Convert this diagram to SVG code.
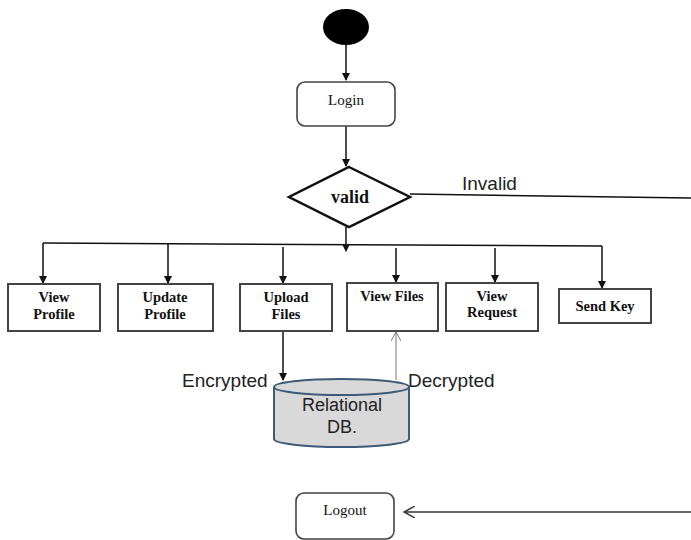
<svg xmlns="http://www.w3.org/2000/svg" width="691" height="540" viewBox="0 0 691 540">
<defs>
<marker id="ah" markerWidth="8" markerHeight="8" refX="7" refY="4" orient="auto" markerUnits="userSpaceOnUse"><path d="M0,0 L8,4 L0,8 z" fill="#111"/></marker>
<marker id="open" markerWidth="12" markerHeight="12" refX="11" refY="6" orient="auto" markerUnits="userSpaceOnUse"><path d="M0,0 L11,6 L0,12" fill="none" stroke="#333" stroke-width="1.5"/></marker>
<marker id="openg" markerWidth="10" markerHeight="10" refX="9" refY="5" orient="auto" markerUnits="userSpaceOnUse"><path d="M0,0 L9,5 L0,10" fill="none" stroke="#777" stroke-width="1"/></marker>
</defs>
<style>
.box{fill:#fff;stroke:#444;stroke-width:2}
.rbox{fill:#fff;stroke:#444;stroke-width:1.6}
.bt{font-family:"Liberation Serif",serif;font-weight:bold;font-size:14.5px;fill:#111;text-anchor:middle}
.st{font-family:"Liberation Serif",serif;font-size:15px;fill:#111;text-anchor:middle}
.lt{font-family:"Liberation Sans",sans-serif;font-size:19px;fill:#222}
.ln{stroke:#111;stroke-width:1.5;fill:none}
</style>
<g id="connectors">
<line class="ln" x1="346" y1="45" x2="346" y2="80" marker-end="url(#ah)"/>
<line class="ln" x1="346" y1="126" x2="346" y2="166" marker-end="url(#ah)"/>
<line class="ln" x1="410" y1="194" x2="691" y2="198"/>
<line class="ln" x1="346" y1="227" x2="346" y2="251" marker-end="url(#ah)"/>
<line class="ln" x1="43" y1="243" x2="602" y2="246"/>
<line class="ln" x1="43" y1="243" x2="43" y2="283" marker-end="url(#ah)"/>
<line class="ln" x1="168" y1="244" x2="168" y2="283" marker-end="url(#ah)"/>
<line class="ln" x1="283" y1="247" x2="283" y2="283" marker-end="url(#ah)"/>
<line class="ln" x1="396" y1="248" x2="396" y2="282" marker-end="url(#ah)"/>
<line class="ln" x1="495" y1="248" x2="495" y2="282" marker-end="url(#ah)"/>
<line class="ln" x1="602" y1="246" x2="602" y2="288" marker-end="url(#ah)"/>
<line class="ln" x1="283" y1="331" x2="283" y2="380" marker-end="url(#ah)"/>
<line x1="396" y1="380" x2="396" y2="332" stroke="#777" stroke-width="1" marker-end="url(#openg)"/>
<line x1="691" y1="512" x2="404" y2="512" stroke="#333" stroke-width="1.5" marker-end="url(#open)"/>
</g>
<g id="start"><ellipse cx="346" cy="27" rx="23" ry="18" fill="#000"/></g>
<g id="login"><rect class="rbox" x="297" y="82" width="98" height="44" rx="8"/><text class="st" x="346" y="105">Login</text></g>
<g id="valid"><polygon points="349,167 410,197 349,227 289,197" fill="#fff" stroke="#111" stroke-width="2.5"/><text class="bt" style="font-size:18px" x="350" y="203">valid</text></g>
<text class="lt" x="462" y="190">Invalid</text>
<g id="viewprofile"><rect class="box" x="8" y="284" width="92" height="47"/><text class="bt" x="54" y="302">View</text><text class="bt" x="54" y="319">Profile</text></g>
<g id="updateprofile"><rect class="box" x="118" y="284" width="95" height="47"/><text class="bt" x="165" y="302">Update</text><text class="bt" x="165" y="319">Profile</text></g>
<g id="uploadfiles"><rect class="box" x="240" y="284" width="92" height="47"/><text class="bt" x="286" y="302">Upload</text><text class="bt" x="286" y="319">Files</text></g>
<g id="viewfiles"><rect class="box" x="347" y="283" width="91" height="48"/><text class="bt" x="392" y="301">View Files</text></g>
<g id="viewrequest"><rect class="box" x="446" y="283" width="92" height="48"/><text class="bt" x="492" y="301">View</text><text class="bt" x="492" y="317">Request</text></g>
<g id="sendkey"><rect class="box" x="559" y="289" width="92" height="34"/><text class="bt" x="605" y="311">Send Key</text></g>
<g id="db">
<path d="M274,387 L274,439 A67.5,8 0 0 0 409,439 L409,387" fill="#d9d9d9" stroke="#3d5a78" stroke-width="2"/>
<ellipse cx="341.5" cy="387" rx="67.5" ry="8" fill="#d9d9d9" stroke="#3d5a78" stroke-width="2"/>
<text class="lt" style="font-size:18px" x="342" y="411" text-anchor="middle">Relational</text>
<text class="lt" style="font-size:18px" x="342" y="433" text-anchor="middle">DB.</text>
</g>
<text class="lt" x="182" y="387">Encrypted</text>
<text class="lt" x="408" y="387">Decrypted</text>
<g id="logout"><rect class="rbox" x="296" y="493" width="98" height="46" rx="8"/><text class="st" x="345" y="515">Logout</text></g>
</svg>
